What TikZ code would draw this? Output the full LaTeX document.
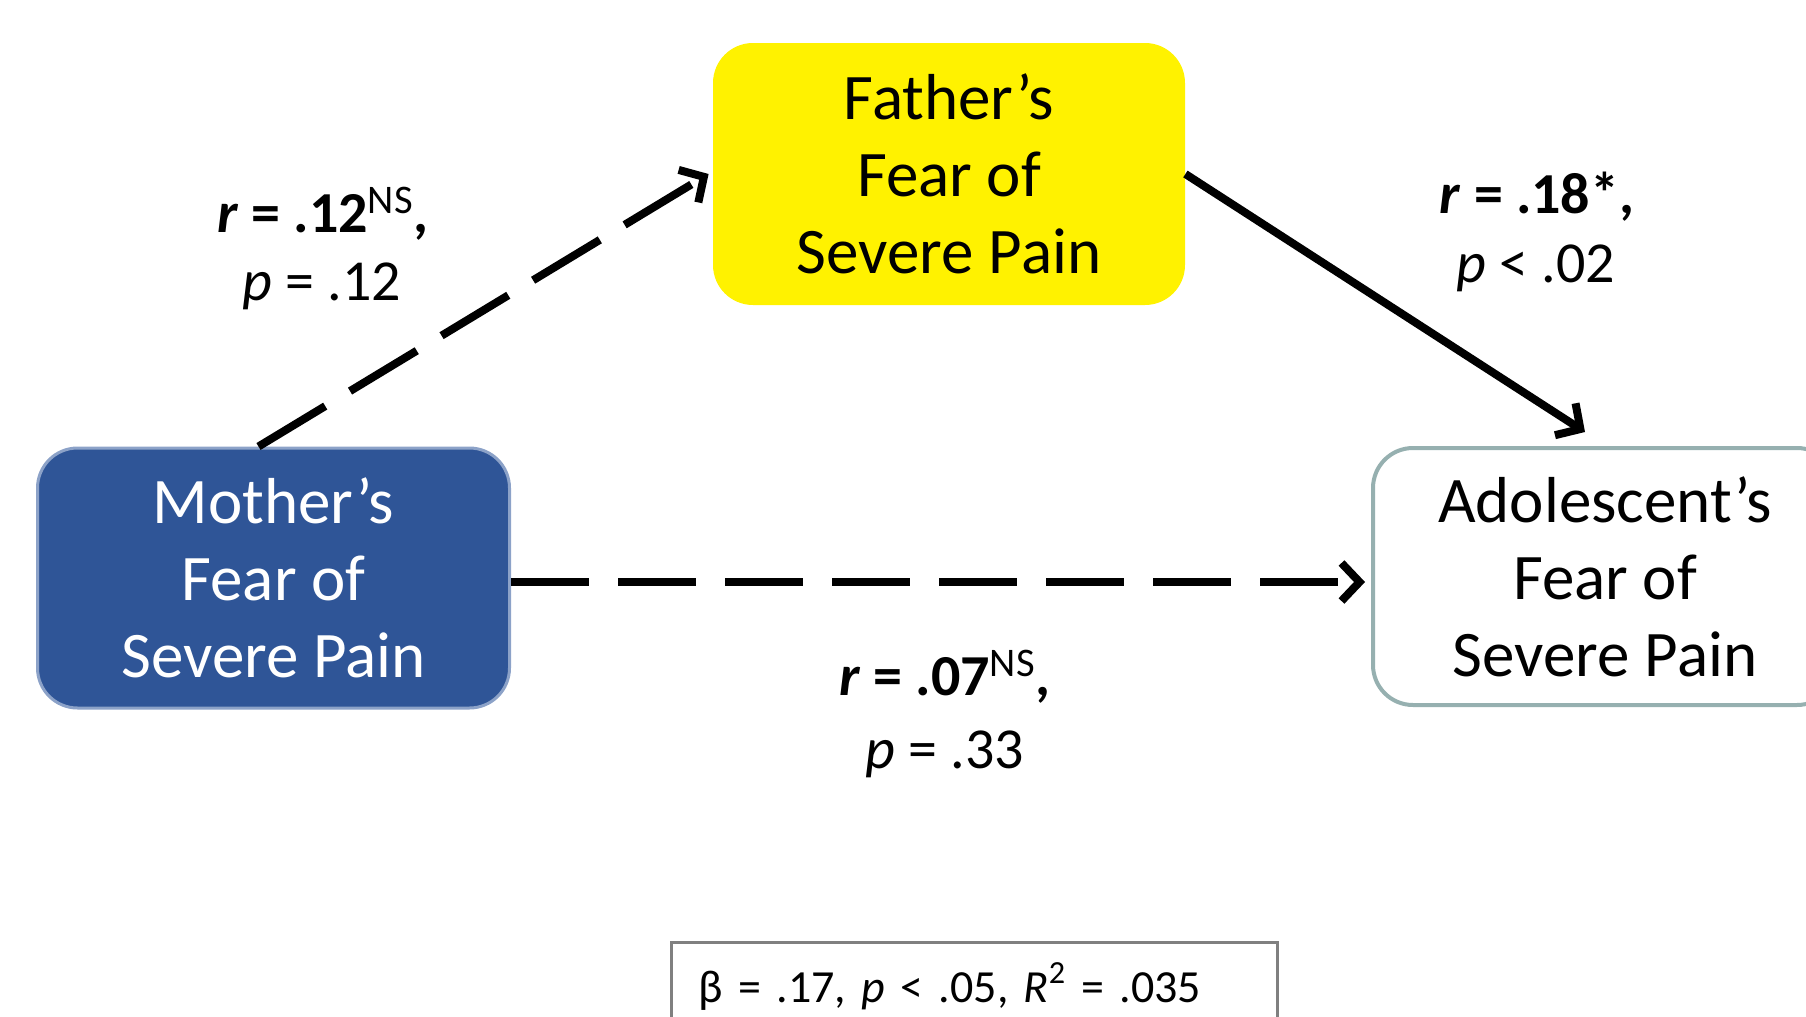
\documentclass[tikz,border=0pt]{standalone}
\usepackage{fontspec}
\setmainfont{Carlito}
\usetikzlibrary{arrows.meta,calc}
\definecolor{motherblue}{RGB}{47,85,151}
\definecolor{motherborder}{RGB}{140,162,200}
\definecolor{adolborder}{RGB}{150,176,176}
\definecolor{statgray}{RGB}{128,128,128}
\begin{document}
\begin{tikzpicture}[x=0.5pt,y=-0.5pt,
  box/.style={rounded corners=20pt, align=center, inner sep=0pt,
    font=\fontsize{32.5pt}{38.5pt}\selectfont},
  lab/.style={anchor=base, inner sep=0pt, font=\fontsize{29pt}{35pt}\selectfont},
  conn/.style={line width=4pt, -{Straight Barb[length=9pt,width=19pt,line width=4pt]}},
  dashconn/.style={conn, dash pattern=on 39pt off 14.5pt}]
\useasboundingbox (0,0) rectangle (1806,1017);
\clip (0,0) rectangle (1806,1017);

\node[box, fill=motherblue, draw=motherborder, line width=1.5pt, text=white,
  minimum width=236pt, minimum height=130pt] (mother) at (273.5,578)
  {Mother’s\\Fear of\\Severe Pain};
\node[box, fill=yellow, minimum width=236pt, minimum height=131pt] (father) at (949,174)
  {Father’s\\Fear of\\Severe Pain};
\node[box, fill=white, draw=adolborder, line width=2pt,
  minimum width=232pt, minimum height=128.5pt] (adol) at (1605,576.5)
  {Adolescent’s\\Fear of\\Severe Pain};

\draw[dashconn] ([xshift=-7.5pt]mother.north) -- ([xshift=-2pt]father.west);
\draw[conn] (father.east) -- ([xshift=-10pt,yshift=7pt]adol.north);
\draw[dashconn] ([yshift=-2pt]mother.east) -- ([xshift=-3pt,yshift=-2.75pt]adol.west);

\node[lab] (mfr) at (323,232) {\textbf{\textit{r} = .12}\textsuperscript{NS}\textbf{,}};
\node[lab] (mfp) at (322,300) {\textit{p} = .12};
\node[lab] (far) at (1537,213) {\textbf{\textit{r} = .18*,}};
\node[lab] (fap) at (1536,282) {\textit{p} < .02};
\node[lab] (mar) at (945,695) {\textbf{\textit{r} = .07}\textsuperscript{NS}\textbf{,}};
\node[lab] (map) at (945,768) {\textit{p} = .33};

\node[anchor=base west, draw=statgray, line width=1.5pt, inner xsep=13.5pt, inner ysep=0pt,
  text height=30pt, text depth=30pt, text width=276pt, align=left,
  font=\fontsize{23pt}{28pt}\selectfont] (stats) at (670,1002)
  {β = .17, \textit{p} < .05, \textit{R}\textsuperscript{2} = .035};
\end{tikzpicture}
\end{document}
